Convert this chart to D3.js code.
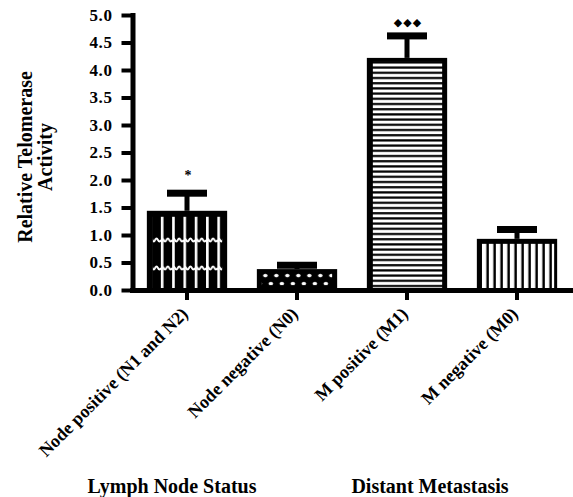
<!DOCTYPE html>
<html>
<head>
<meta charset="utf-8">
<script src="https://cdn.jsdelivr.net/npm/d3@7"></script>
<style>
  body { margin: 0; background: #fff; }
  svg { display: block; }
  text { font-family: "Liberation Serif", "Times New Roman", serif; font-weight: bold; fill: #000; }
</style>
</head>
<body>
<svg width="573" height="497"></svg>
<script>
// values
var categories = ["Node positive (N1 and N2)", "Node negative (N0)", "M positive (M1)", "M negative (M0)"];
var means = [1.44, 0.38, 4.22, 0.93];
var errors = [0.32, 0.07, 0.40, 0.17];
var marks = ["*", "", "\u25C6\u25C6\u25C6", ""];
var yTicks = [0, 0.5, 1, 1.5, 2, 2.5, 3, 3.5, 4, 4.5, 5];
var groups = ["Lymph Node Status", "Distant Metastasis"];
var groupFirst = [0, 2];

var data = categories.map(function(c, i) {
  return {name: c, mean: means[i], err: errors[i], mark: marks[i], i: i};
});

var svg = d3.select("svg");

var x = d3.scaleBand().domain(categories).range([132, 572]).paddingInner(0.27).paddingOuter(0.135),
    y = d3.scaleLinear().domain([0, 5]).range([290, 15]);

var bw = x.bandwidth();

// fill patterns, one per bar
var defs = svg.append("defs");

data.forEach(function(d) {
  var bx = x(d.name), top = y(d.mean);
  var p = defs.append("pattern").attr("id", "pat" + d.i).attr("patternUnits", "userSpaceOnUse");
  if (d.i == 0) {
    p.attr("x", bx + 14).attr("y", y(0) - 36).attr("width", 11.3).attr("height", 28);
    p.append("rect").attr("width", 11.3).attr("height", 28).attr("fill", "#000");
    p.append("rect").attr("x", 0).attr("width", 2.6).attr("height", 28).attr("fill", "#fff");
    p.append("path").attr("d", "M0,14 q1.4,-3 2.8,0 t2.8,0 t2.8,0 t2.9,0")
        .attr("fill", "none").attr("stroke", "#fff").attr("stroke-width", 1.8);
  } else if (d.i == 1) {
    p.attr("x", bx + 6).attr("y", top).attr("width", 11).attr("height", 16);
    p.append("rect").attr("width", 11).attr("height", 16).attr("fill", "#000");
    p.append("ellipse").attr("cx", 2.5).attr("cy", 6.5).attr("rx", 2.2).attr("ry", 1.7).attr("fill", "#fff");
    p.append("ellipse").attr("cx", 8).attr("cy", 14.5).attr("rx", 2.2).attr("ry", 1.7).attr("fill", "#fff");
  } else if (d.i == 2) {
    p.attr("x", 0).attr("y", top + 5).attr("width", 10).attr("height", 5.2);
    p.append("rect").attr("width", 10).attr("height", 5.2).attr("fill", "#000");
    p.append("rect").attr("y", 0.6).attr("width", 10).attr("height", 3).attr("fill", "#fff");
  } else {
    p.attr("x", bx + 5).attr("y", 0).attr("width", 7).attr("height", 10);
    p.append("rect").attr("width", 7).attr("height", 10).attr("fill", "#000");
    p.append("rect").attr("x", 0).attr("width", 4.5).attr("height", 10).attr("fill", "#fff");
  }
});

// inner insets of the pattern area: left, right, top
var insets = [[6, 5, 6], [5, 5, 3], [6, 5, 4], [5, 3, 5]];

var bars = svg.selectAll(".bar")
    .data(data)
  .enter().append("g")
    .attr("class", "bar");

bars.append("rect")
    .attr("x", function(d) { return x(d.name); })
    .attr("y", function(d) { return y(d.mean); })
    .attr("width", bw)
    .attr("height", function(d) { return y(0) - y(d.mean); })
    .attr("fill", "#000");

bars.append("rect")
    .attr("x", function(d) { return x(d.name) + insets[d.i][0]; })
    .attr("y", function(d) { return y(d.mean) + insets[d.i][2]; })
    .attr("width", function(d) { return bw - insets[d.i][0] - insets[d.i][1]; })
    .attr("height", function(d) { return Math.max(0, y(0) - 2 - y(d.mean) - insets[d.i][2]); })
    .attr("fill", function(d) { return "url(#pat" + d.i + ")"; });

// error bars
bars.append("rect")
    .attr("x", function(d) { return x(d.name) + bw / 2 - 2.5; })
    .attr("y", function(d) { return y(d.mean + d.err); })
    .attr("width", 5)
    .attr("height", function(d) { return y(d.mean) - y(d.mean + d.err); })
    .attr("fill", "#000");

bars.append("rect")
    .attr("x", function(d) { return x(d.name) + bw / 2 - 20; })
    .attr("y", function(d) { return y(d.mean + d.err) - 3.5; })
    .attr("width", 40)
    .attr("height", 7)
    .attr("fill", "#000");

// significance marks
bars.append("text")
    .attr("x", function(d) { return x(d.name) + bw / 2 + 1; })
    .attr("y", function(d) { return y(d.mean + d.err) - (d.i == 0 ? 13 : 10); })
    .attr("text-anchor", "middle")
    .attr("font-size", function(d) { return d.i == 0 ? "14px" : "11px"; })
    .attr("letter-spacing", function(d) { return d.i == 0 ? 0 : 1; })
    .style("font-family", function(d) { return d.i == 0 ? null : "DejaVu Sans"; })
    .text(function(d) { return d.mark; });

// axes
var gy = svg.append("g")
    .attr("transform", "translate(132.5,0)")
    .call(d3.axisLeft(y).tickValues(yTicks).tickFormat(d3.format(".1f"))
        .tickSize(11).tickSizeOuter(0).tickPadding(9));

gy.select(".domain").attr("stroke-width", 5).attr("stroke-linecap", "square");
gy.selectAll(".tick line").attr("stroke-width", 4);
gy.selectAll(".tick text").attr("font-size", "17px").attr("font-family", null).attr("letter-spacing", 0.6);

var gx = svg.append("g")
    .attr("transform", "translate(0," + y(0) + ")")
    .call(d3.axisBottom(x).tickSize(10).tickSizeOuter(0));

gx.select(".domain").attr("stroke-width", 5).attr("stroke-linecap", "square");
gx.selectAll(".tick line").attr("stroke-width", 4);
gx.selectAll(".tick text")
    .attr("font-size", "18px")
    .attr("font-family", null)
    .attr("text-anchor", "end")
    .attr("y", 0).attr("dy", 0)
    .attr("transform", "translate(2,25) rotate(-45)");

svg.selectAll(".tick text").attr("fill", "#000");

// y axis title
var yt = svg.append("text")
    .attr("transform", "translate(32,157) rotate(-90)")
    .attr("text-anchor", "middle")
    .attr("font-size", "20px");
yt.append("tspan").attr("x", 0).text("Relative Telomerase");
yt.append("tspan").attr("x", 0).attr("dy", 20).text("Activity");

// group titles
var groupShift = [-15, 23];
svg.selectAll(".group")
    .data(groups)
  .enter().append("text")
    .attr("class", "group")
    .attr("x", function(d, i) { return x(categories[groupFirst[i]]) + bw / 2 + groupShift[i]; })
    .attr("y", 493)
    .attr("text-anchor", "middle")
    .attr("font-size", "20px")
    .text(function(d) { return d; });
</script>
</body>
</html>
